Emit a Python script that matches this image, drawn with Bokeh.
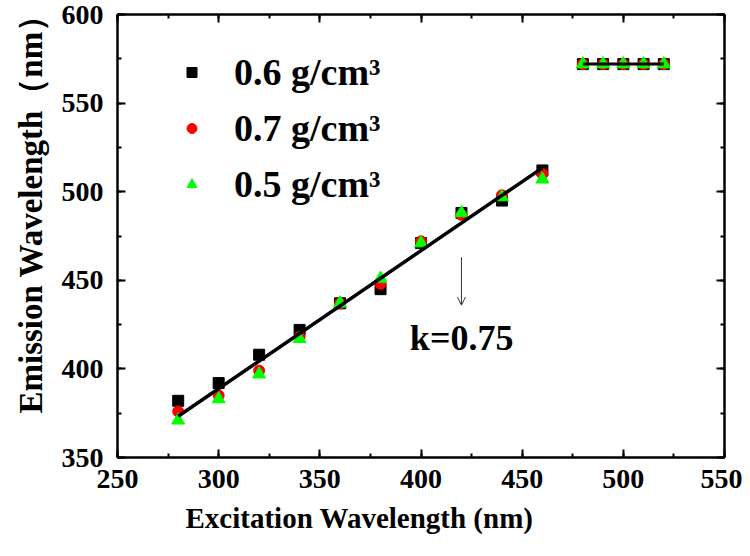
import numpy as np
from bokeh.plotting import figure
from bokeh.models import (Range1d, LinearAxis, SingleIntervalTicker, Label, Title,
                          Arrow, OpenHead, Legend, LegendItem)
from bokeh.embed import file_html
from bokeh.resources import INLINE

# ---- data ----
x_linear = [280, 300, 320, 340, 360, 380, 400, 420, 440, 460]
x_plateau = [480, 490, 500, 510, 520]

y_06_linear = [382, 392, 408, 422, 437, 445, 471, 488, 495, 512]
y_07_linear = [376, 385, 399, 418, 437, 448, 472, 487, 498, 510]
y_05_linear = [371, 383, 397, 417, 437, 451, 471, 488, 497, 507]

y_06_plateau = [572, 572, 572, 572, 572]
y_07_plateau = [572, 572, 572, 572, 572]
y_05_plateau = [572, 572, 572, 572, 572]

series_labels = ["0.6 g/cm\u00b3", "0.7 g/cm\u00b3", "0.5 g/cm\u00b3"]
series_colors = ["#000000", "#ff0000", "#00ff00"]
series_markers = ["square", "circle", "triangle"]
series_sizes = [11, 11, 13]

x_title = "Excitation Wavelength (nm)"
y_title = "Emission Wavelength\uff08nm\uff09"
slope_text = "k=0.75"

FONT = "Liberation Serif"

p = figure(width=742, height=548, x_range=Range1d(250, 550), y_range=Range1d(350, 600),
           output_backend="svg", toolbar_location=None,
           min_border_left=117, min_border_right=18, min_border_top=14, min_border_bottom=91)
p.xgrid.visible = False
p.ygrid.visible = False
p.outline_line_color = None
p.background_fill_color = "white"
p.border_fill_color = "white"


def style_axis(ax, show_labels):
    ax.ticker = SingleIntervalTicker(interval=50, num_minor_ticks=2)
    ax.axis_line_width = 2.5
    ax.axis_line_color = "black"
    ax.major_tick_in = 8
    ax.major_tick_out = 0
    ax.minor_tick_in = 4
    ax.minor_tick_out = 0
    ax.major_tick_line_width = 2
    ax.minor_tick_line_width = 2
    ax.major_tick_line_color = "black"
    ax.minor_tick_line_color = "black"
    ax.major_label_text_font = FONT
    ax.major_label_text_font_style = "bold"
    if show_labels:
        ax.major_label_text_color = "black"
        ax.major_label_text_font_size = "28px"
    else:
        ax.major_label_text_color = None
        ax.major_label_text_font_size = "1px"
        ax.major_label_standoff = 0


style_axis(p.xaxis[0], True)
style_axis(p.yaxis[0], True)
p.xaxis[0].major_label_standoff = 12
p.yaxis[0].major_label_standoff = 14

top_ax = LinearAxis()
right_ax = LinearAxis()
style_axis(top_ax, False)
style_axis(right_ax, False)
p.add_layout(top_ax, "above")
p.add_layout(right_ax, "right")

# ---- axis titles ----
p.add_layout(Title(text=x_title, align="left", offset=68, standoff=18,
                   text_font=FONT, text_font_style="bold", text_font_size="29px",
                   text_color="black"), "below")
p.add_layout(Title(text=y_title, align="left", offset=44, standoff=20,
                   text_font=FONT, text_font_style="bold", text_font_size="33px",
                   text_color="black"), "left")

# ---- data series ----
all_y = [y_06_linear + y_06_plateau, y_07_linear + y_07_plateau, y_05_linear + y_05_plateau]
x_all = x_linear + x_plateau
renderers = []
for ys, col, mk, sz in zip(all_y, series_colors, series_markers, series_sizes):
    r = p.scatter(x_all, ys, marker=mk, size=sz, fill_color=col, line_color=col)
    renderers.append(r)

# ---- linear fit over the linear region, flat line over the plateau ----
xl = np.array(x_linear * 3, dtype=float)
yl = np.array(y_06_linear + y_07_linear + y_05_linear, dtype=float)
k, b = np.polyfit(xl, yl, 1)
fit_x = [min(x_linear), max(x_linear)]
fit_y = [k * v + b for v in fit_x]
p.line(fit_x, fit_y, line_color="black", line_width=3.5)

plateau_level = float(np.mean(y_06_plateau + y_07_plateau + y_05_plateau))
p.line([min(x_plateau), max(x_plateau)], [plateau_level, plateau_level],
       line_color="black", line_width=3)

# ---- legend ----
legend = Legend(items=[LegendItem(label=lab, renderers=[r]) for lab, r in zip(series_labels, renderers)],
                location=(62, 251), orientation="vertical",
                padding=10, spacing=12, glyph_width=25, glyph_height=44,
                label_height=44, label_standoff=30, margin=0,
                label_text_font=FONT, label_text_font_style="bold",
                label_text_font_size="38px", label_text_color="black",
                border_line_color=None, background_fill_alpha=0)
p.add_layout(legend)

# ---- annotation ----
p.add_layout(Arrow(x_start=420, y_start=463, x_end=420, y_end=436,
                   line_color="#333333", line_width=1,
                   end=OpenHead(size=8, line_width=1, line_color="#333333")))
p.add_layout(Label(x=394.5, y=417.5, text=slope_text, text_font=FONT, text_font_style="bold",
                   text_font_size="36px", text_color="black",
                   text_align="left", text_baseline="alphabetic"))

open("out.html", "w").write(file_html(p, INLINE))
